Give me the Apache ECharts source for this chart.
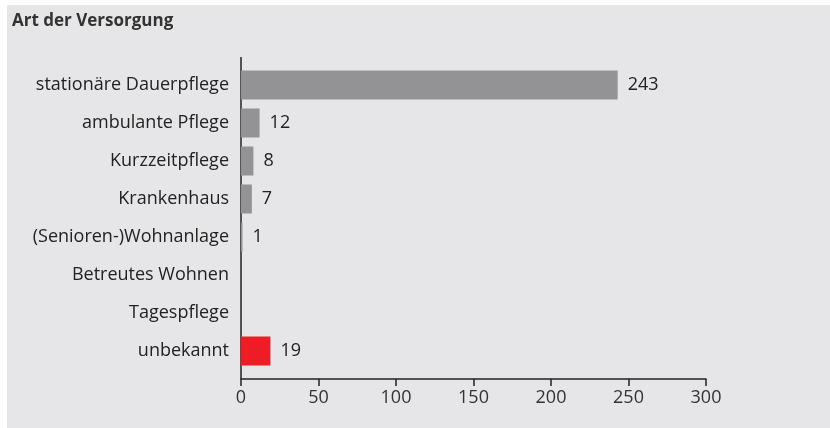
<!DOCTYPE html>
<html>
<head>
<meta charset="utf-8">
<script src="https://cdn.jsdelivr.net/npm/echarts@6/dist/echarts.min.js"></script>
<style>
  html, body { margin: 0; padding: 0; background: #fff; }
  #main { position: absolute; left: 7px; top: 5px; width: 823px; height: 423px; background: #e6e6e8; }
</style>
</head>
<body>
<div id="main"></div>
<script>
// Art der Versorgung
const categories = [
    "stationäre Dauerpflege",
    "ambulante Pflege",
    "Kurzzeitpflege",
    "Krankenhaus",
    "(Senioren-)Wohnanlage",
    "Betreutes Wohnen",
    "Tagespflege",
    "unbekannt"
];
const values = [243, 12, 8, 7, 1, 0, 0, 19];
const highlight = "unbekannt";

const chart = echarts.init(document.getElementById("main"));
const font = "'Open Sans', 'Noto Sans', sans-serif";

const option = {
    backgroundColor: "#e6e6e8",
    animation: false,
    title: {
        text: "Art der Versorgung",
        left: 5,
        top: 8,
        padding: 0,
        textStyle: { fontFamily: font, fontSize: 17, fontWeight: "bold", color: "#333" }
    },
    grid: { left: 234, right: 124, top: 61, bottom: 58 },
    xAxis: {
        type: "value",
        min: 0,
        max: 300,
        interval: 50,
        offset: 9,
        axisLine: { show: true, lineStyle: { color: "#222", width: 1.5 } },
        axisTick: { show: true, length: 7, inside: false, lineStyle: { color: "#222", width: 1.5 } },
        axisLabel: { color: "#333", fontFamily: font, fontSize: 18, margin: 10 },
        splitLine: { show: false }
    },
    yAxis: {
        type: "category",
        inverse: true,
        data: categories,
        axisLine: { show: false },
        axisTick: { show: false },
        axisLabel: { color: "#222", fontFamily: font, fontSize: 18, margin: 12 }
    },
    graphic: [
        {
            // y axis line, running from above the first bar down to the x axis
            type: "line",
            shape: { x1: 234, y1: 52, x2: 234, y2: 374 },
            style: { stroke: "#222", lineWidth: 1.5 }
        }
    ],
    series: [
        {
            type: "bar",
            barWidth: 29,
            data: values.map((v, i) => ({
                value: v,
                itemStyle: { color: categories[i] === highlight ? "#ee1d25" : "#939396" }
            })),
            label: {
                show: true,
                position: "right",
                distance: 10,
                color: "#222",
                fontFamily: font,
                fontSize: 18,
                formatter: p => (p.value > 0 ? p.value : "")
            }
        }
    ]
};

chart.setOption(option);
</script>
</body>
</html>
